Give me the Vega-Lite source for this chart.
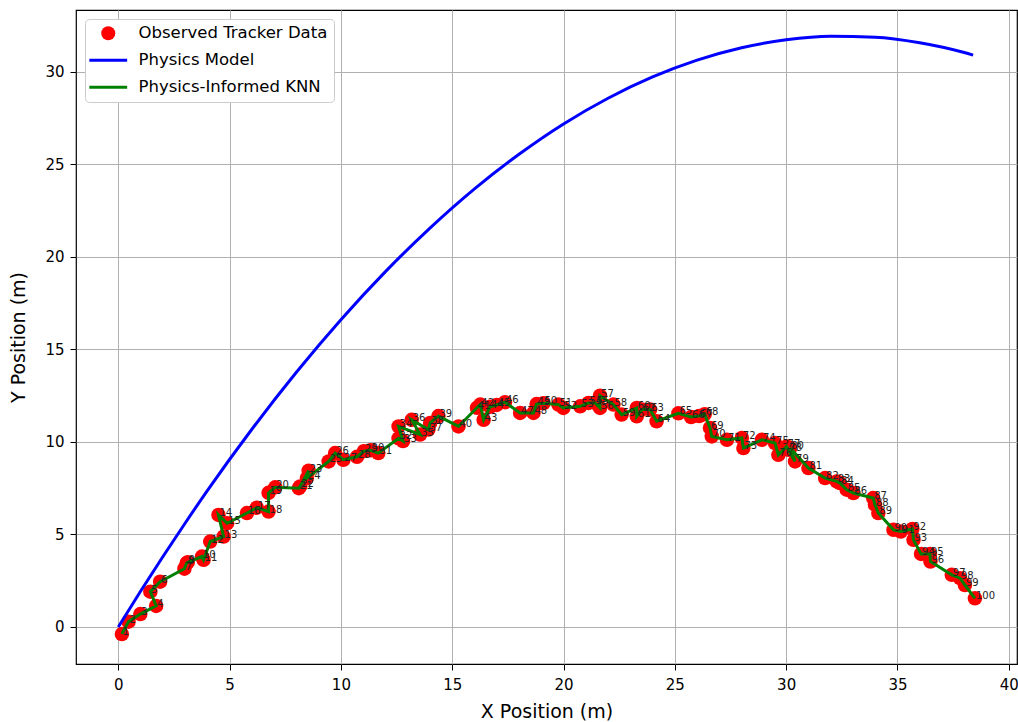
{
  "$schema": "https://vega.github.io/schema/vega-lite/v6.json",
  "width": 941,
  "height": 654,
  "autosize": {"type": "none"},
  "padding": {"left": 76, "top": 10, "right": 1, "bottom": 58},
  "background": "white",
  "config": {
    "font": "DejaVu Sans",
    "view": {"stroke": "black", "strokeWidth": 1.2},
    "axis": {
      "grid": true,
      "gridColor": "#b0b0b0",
      "gridWidth": 1,
      "domain": false,
      "tickColor": "black",
      "tickSize": 6,
      "tickWidth": 1,
      "labelColor": "black",
      "labelFont": "DejaVu Sans",
      "labelFontSize": 15,
      "titleFont": "DejaVu Sans",
      "titleFontSize": 19,
      "titleFontWeight": "normal",
      "titleColor": "black"
    }
  },
  "datasets": {
    "obs": [
      {"i": 1, "x": 0.16, "y": -0.38}, {"i": 2, "x": 0.46, "y": 0.29}, {"i": 3, "x": 0.99, "y": 0.70},
      {"i": 4, "x": 1.70, "y": 1.14}, {"i": 5, "x": 1.44, "y": 1.91}, {"i": 6, "x": 1.88, "y": 2.45},
      {"i": 7, "x": 2.97, "y": 3.15}, {"i": 8, "x": 3.07, "y": 3.45}, {"i": 9, "x": 3.12, "y": 3.50},
      {"i": 10, "x": 3.76, "y": 3.81}, {"i": 11, "x": 3.83, "y": 3.63}, {"i": 12, "x": 4.13, "y": 4.62},
      {"i": 13, "x": 4.73, "y": 4.89}, {"i": 14, "x": 4.50, "y": 6.06}, {"i": 15, "x": 4.89, "y": 5.61},
      {"i": 16, "x": 5.78, "y": 6.16}, {"i": 17, "x": 6.22, "y": 6.45}, {"i": 18, "x": 6.75, "y": 6.24},
      {"i": 19, "x": 6.75, "y": 7.25}, {"i": 20, "x": 7.05, "y": 7.55}, {"i": 21, "x": 8.11, "y": 7.50},
      {"i": 22, "x": 8.17, "y": 7.60}, {"i": 23, "x": 8.55, "y": 8.45}, {"i": 24, "x": 8.47, "y": 8.05},
      {"i": 25, "x": 9.45, "y": 8.95}, {"i": 26, "x": 9.74, "y": 9.40}, {"i": 27, "x": 10.11, "y": 9.04},
      {"i": 28, "x": 10.72, "y": 9.20}, {"i": 29, "x": 11.03, "y": 9.50}, {"i": 30, "x": 11.33, "y": 9.55},
      {"i": 31, "x": 11.68, "y": 9.40}, {"i": 32, "x": 12.59, "y": 10.20}, {"i": 33, "x": 12.79, "y": 10.05},
      {"i": 34, "x": 12.59, "y": 10.84}, {"i": 35, "x": 13.56, "y": 10.40}, {"i": 36, "x": 13.18, "y": 11.20},
      {"i": 37, "x": 13.93, "y": 10.67}, {"i": 38, "x": 14.01, "y": 11.03}, {"i": 39, "x": 14.38, "y": 11.40},
      {"i": 40, "x": 15.28, "y": 10.84}, {"i": 41, "x": 16.11, "y": 11.85}, {"i": 42, "x": 16.26, "y": 12.02},
      {"i": 43, "x": 16.41, "y": 11.20}, {"i": 44, "x": 16.70, "y": 11.90}, {"i": 45, "x": 17.00, "y": 12.00},
      {"i": 46, "x": 17.37, "y": 12.15}, {"i": 47, "x": 18.05, "y": 11.57}, {"i": 48, "x": 18.65, "y": 11.57},
      {"i": 49, "x": 18.79, "y": 12.05}, {"i": 50, "x": 19.10, "y": 12.10}, {"i": 51, "x": 19.77, "y": 12.02},
      {"i": 52, "x": 19.99, "y": 11.84}, {"i": 53, "x": 20.75, "y": 11.93}, {"i": 54, "x": 21.12, "y": 12.11},
      {"i": 55, "x": 21.42, "y": 12.11}, {"i": 56, "x": 21.64, "y": 11.84}, {"i": 57, "x": 21.64, "y": 12.50},
      {"i": 58, "x": 22.24, "y": 12.02}, {"i": 59, "x": 22.61, "y": 11.48}, {"i": 60, "x": 23.29, "y": 11.84},
      {"i": 61, "x": 23.29, "y": 11.39}, {"i": 62, "x": 23.52, "y": 11.75}, {"i": 63, "x": 23.89, "y": 11.75},
      {"i": 64, "x": 24.18, "y": 11.12}, {"i": 65, "x": 25.16, "y": 11.55}, {"i": 66, "x": 25.73, "y": 11.35},
      {"i": 67, "x": 26.09, "y": 11.40}, {"i": 68, "x": 26.34, "y": 11.50}, {"i": 69, "x": 26.58, "y": 10.76},
      {"i": 70, "x": 26.66, "y": 10.30}, {"i": 71, "x": 27.34, "y": 10.12}, {"i": 72, "x": 28.01, "y": 10.22},
      {"i": 73, "x": 28.08, "y": 9.67}, {"i": 74, "x": 28.91, "y": 10.12}, {"i": 75, "x": 29.50, "y": 9.94},
      {"i": 76, "x": 29.65, "y": 9.31}, {"i": 77, "x": 30.02, "y": 9.76}, {"i": 78, "x": 30.10, "y": 9.58},
      {"i": 79, "x": 30.40, "y": 8.95}, {"i": 80, "x": 30.18, "y": 9.67}, {"i": 81, "x": 31.00, "y": 8.59},
      {"i": 82, "x": 31.75, "y": 8.05}, {"i": 83, "x": 32.27, "y": 7.87}, {"i": 84, "x": 32.42, "y": 7.78},
      {"i": 85, "x": 32.72, "y": 7.42}, {"i": 86, "x": 33.02, "y": 7.24}, {"i": 87, "x": 33.91, "y": 6.97},
      {"i": 88, "x": 33.99, "y": 6.61}, {"i": 89, "x": 34.14, "y": 6.16}, {"i": 90, "x": 34.82, "y": 5.25},
      {"i": 91, "x": 35.15, "y": 5.16}, {"i": 92, "x": 35.67, "y": 5.30}, {"i": 93, "x": 35.72, "y": 4.71},
      {"i": 94, "x": 36.06, "y": 3.95}, {"i": 95, "x": 36.46, "y": 3.95}, {"i": 96, "x": 36.48, "y": 3.54},
      {"i": 97, "x": 37.44, "y": 2.82}, {"i": 98, "x": 37.81, "y": 2.64}, {"i": 99, "x": 38.03, "y": 2.27},
      {"i": 100, "x": 38.48, "y": 1.55}
    ],
    "physics": [
      {"x": 0, "y": 0}, {"x": 1, "y": 1.93}, {"x": 2, "y": 3.80}, {"x": 3, "y": 5.61}, {"x": 4, "y": 7.37},
      {"x": 6, "y": 10.69}, {"x": 8, "y": 13.77}, {"x": 10, "y": 16.61}, {"x": 12, "y": 19.21},
      {"x": 14, "y": 21.56}, {"x": 16, "y": 23.68}, {"x": 18, "y": 25.55}, {"x": 20, "y": 27.19},
      {"x": 22, "y": 28.58}, {"x": 24, "y": 29.73}, {"x": 26, "y": 30.64}, {"x": 28, "y": 31.31},
      {"x": 30, "y": 31.74}, {"x": 32, "y": 31.93}, {"x": 34, "y": 31.88}, {"x": 36, "y": 31.58},
      {"x": 38, "y": 31.05}, {"x": 38.4, "y": 30.91}
    ]
  },
  "layer": [
    {
      "data": {"name": "obs"},
      "mark": {"type": "point", "filled": true, "size": 210, "opacity": 1},
      "encoding": {
        "x": {"field": "x", "type": "quantitative", "title": "X Position (m)",
              "scale": {"domain": [-1.9, 40.37], "nice": false, "zero": false},
              "axis": {"values": [0, 5, 10, 15, 20, 25, 30, 35, 40], "labelPadding": 7, "titlePadding": 10}},
        "y": {"field": "y", "type": "quantitative", "title": "Y Position (m)",
              "scale": {"domain": [-2.0, 33.35], "nice": false, "zero": false},
              "axis": {"values": [0, 5, 10, 15, 20, 25, 30], "labelPadding": 6, "titlePadding": 16}},
        "shape": {
          "datum": "Observed Tracker Data",
          "type": "nominal",
          "scale": {"domain": ["Observed Tracker Data", "Physics Model", "Physics-Informed KNN"], "range": ["circle", "M-2.7,-0.21H2.7V0.21H-2.7Z", "M-2.7,-0.21H2.7V0.21H-2.7Z"]},
          "legend": {
            "title": null,
            "orient": "top-left",
            "offset": 9,
            "padding": 6,
            "fillColor": "white",
            "strokeColor": "#cccccc",
            "cornerRadius": 4,
            "labelFont": "DejaVu Sans",
            "labelFontSize": 16.5,
            "labelColor": "black",
            "labelLimit": 400,
            "labelOffset": 22,
            "symbolOffset": 9,
            "symbolSize": 196,
            "symbolStrokeWidth": 0,
            "rowPadding": 10
          }
        },
        "color": {
          "datum": "Observed Tracker Data",
          "type": "nominal",
          "scale": {"domain": ["Observed Tracker Data", "Physics Model", "Physics-Informed KNN"], "range": ["#ff0000", "#0000ff", "#008000"]},
          "legend": {
            "title": null,
            "orient": "top-left",
            "offset": 9,
            "padding": 6,
            "fillColor": "white",
            "strokeColor": "#cccccc",
            "cornerRadius": 4,
            "labelFont": "DejaVu Sans",
            "labelFontSize": 16.5,
            "labelColor": "black",
            "labelLimit": 400,
            "labelOffset": 22,
            "symbolOffset": 9,
            "symbolSize": 196,
            "symbolStrokeWidth": 0,
            "rowPadding": 10
          }
        }
      }
    },
    {
      "data": {"name": "physics"},
      "mark": {"type": "line", "strokeWidth": 3, "interpolate": "monotone", "color": "#0000ff"},
      "encoding": {
        "x": {"field": "x", "type": "quantitative"},
        "y": {"field": "y", "type": "quantitative"}
      }
    },
    {
      "data": {"name": "obs"},
      "mark": {"type": "line", "strokeWidth": 3, "color": "#008000"},
      "encoding": {
        "x": {"field": "x", "type": "quantitative"},
        "y": {"field": "y", "type": "quantitative"},
        "order": {"field": "i", "type": "quantitative"}
      }
    },
    {
      "data": {"name": "obs"},
      "mark": {"type": "text", "align": "left", "baseline": "alphabetic", "dx": 1, "dy": 1, "fontSize": 10, "color": "#222222", "font": "DejaVu Sans"},
      "encoding": {
        "x": {"field": "x", "type": "quantitative"},
        "y": {"field": "y", "type": "quantitative"},
        "text": {"field": "i", "type": "quantitative"}
      }
    }
  ]
}
